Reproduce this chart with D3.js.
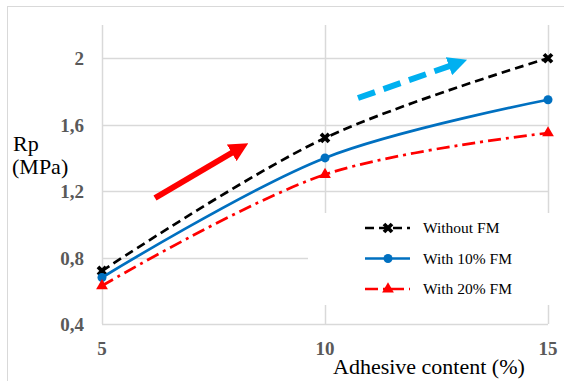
<!DOCTYPE html>
<html>
<head>
<meta charset="utf-8">
<script src="https://cdn.jsdelivr.net/npm/d3@7"></script>
<style>
  body { margin: 0; background: #fff; }
  svg { display: block; }
  svg text { font-family: 'Liberation Serif', 'Times New Roman', serif; }
</style>
</head>
<body>
<div id="chart"></div>
<script>
// Chart data.
const adhesive = [5, 10, 15];
const withoutFM = [0.72, 1.52, 2.0];
const with10FM = [0.68, 1.40, 1.75];
const with20FM = [0.63, 1.30, 1.55];
const yTicks = [0.4, 0.8, 1.2, 1.6, 2.0];
const seriesNames = ['Without FM', 'With 10% FM', 'With 20% FM'];

const width = 564, height = 381;
const svg = d3.select('#chart').append('svg')
    .attr('width', width)
    .attr('height', height);

// Outer frame.
svg.append('rect')
    .attr('x', 7.5).attr('y', 6.5)
    .attr('width', width + 10).attr('height', height + 10)
    .attr('fill', 'none').attr('stroke', '#d9d9d9');

const x = d3.scaleLinear().domain([5, 15]).range([102, 548]);
const y = d3.scaleLinear().domain([0.4, 2.2]).range([324, 25]);

// Grid lines.
svg.append('g').selectAll('line')
    .data(yTicks)
    .enter().append('line')
    .attr('x1', x(5)).attr('x2', x(15))
    .attr('y1', d => Math.round(y(d)) + 0.5).attr('y2', d => Math.round(y(d)) + 0.5)
    .attr('stroke', '#d9d9d9').attr('stroke-width', 1.5);
svg.append('g').selectAll('line')
    .data(adhesive)
    .enter().append('line')
    .attr('x1', d => Math.round(x(d)) + 0.5).attr('x2', d => Math.round(x(d)) + 0.5)
    .attr('y1', y(2.2)).attr('y2', y(0.4))
    .attr('stroke', '#d9d9d9').attr('stroke-width', 1.5);

// Tick labels.
svg.append('g').selectAll('text')
    .data(yTicks)
    .enter().append('text')
    .attr('x', 84).attr('y', d => y(d) + 7)
    .attr('text-anchor', 'end')
    .attr('font-size', 19)
    .attr('font-weight', 'bold').attr('fill', '#595959')
    .text(d => d3.format('.1f')(d).replace('.', ',').replace(',0', ''));
svg.append('g').selectAll('text')
    .data(adhesive)
    .enter().append('text')
    .attr('x', d => x(d)).attr('y', 355)
    .attr('text-anchor', 'middle')
    .attr('font-size', 19)
    .attr('font-weight', 'bold').attr('fill', '#595959')
    .text(d => d);

// Axis titles.
svg.append('text').attr('x', 13).attr('y', 151)
    .attr('font-size', 22)
    .text('Rp');
svg.append('text').attr('x', 12).attr('y', 174)
    .attr('font-size', 22)
    .text('(MPa)');
svg.append('text').attr('x', 333).attr('y', 374)
    .attr('font-size', 22)
    .text('Adhesive content (%)');

// Series.
const styles = [
    {values: withoutFM, color: '#000000', dash: '9,5', marker: 'x'},
    {values: with10FM, color: '#0070c0', dash: null, marker: 'circle'},
    {values: with20FM, color: '#ff0000', dash: '13,5,3,5', marker: 'triangle'}
];
const line = d3.line()
    .x(d => x(d[0])).y(d => y(d[1]))
    .curve(d3.curveCatmullRom.alpha(0.5));

function drawMarker(g, type, color) {
    if (type === 'x') {
        g.append('path').attr('d', 'M-4,-4L4,4M4,-4L-4,4')
            .attr('stroke', color).attr('stroke-width', 3.8).attr('fill', 'none');
    } else if (type === 'circle') {
        g.append('circle').attr('r', 4.5).attr('fill', color);
    } else {
        g.append('path').attr('d', d3.symbol(d3.symbolTriangle, 60)())
            .attr('fill', color);
    }
}

styles.forEach(function (s) {
    const pts = adhesive.map((a, i) => [a, s.values[i]]);
    svg.append('path')
        .attr('d', line(pts))
        .attr('fill', 'none')
        .attr('stroke', s.color)
        .attr('stroke-width', 2.7)
        .attr('stroke-dasharray', s.dash);
    pts.forEach(function (p) {
        const g = svg.append('g')
            .attr('transform', 'translate(' + x(p[0]) + ',' + y(p[1]) + ')');
        drawMarker(g, s.marker, s.color);
    });
});

// Trend arrows.
const defs = svg.append('defs');
function arrowHead(id, color) {
    defs.append('marker')
        .attr('id', id)
        .attr('viewBox', '0 0 10 10')
        .attr('refX', 5).attr('refY', 5)
        .attr('markerWidth', 3.2).attr('markerHeight', 3.2)
        .attr('markerUnits', 'strokeWidth')
        .attr('orient', 'auto')
        .append('path').attr('d', 'M0,0L10,5L0,10z').attr('fill', color);
}
arrowHead('redHead', '#ff0000');
arrowHead('blueHead', '#00b0f0');
svg.append('line')
    .attr('x1', 155).attr('y1', 198).attr('x2', 240).attr('y2', 148)
    .attr('stroke', '#ff0000').attr('stroke-width', 6)
    .attr('marker-end', 'url(#redHead)');
svg.append('line')
    .attr('x1', 358).attr('y1', 98).attr('x2', 458).attr('y2', 63)
    .attr('stroke', '#00b0f0').attr('stroke-width', 6)
    .attr('stroke-dasharray', '18,9')
    .attr('marker-end', 'url(#blueHead)');

// Legend (white box hides the grid behind it).
const legend = svg.append('g');
legend.append('rect')
    .attr('x', 308).attr('y', 213).attr('width', 252).attr('height', 92)
    .attr('fill', '#fff');
seriesNames.forEach(function (name, i) {
    const s = styles[i];
    const ly = 228 + i * 30.5;
    legend.append('line')
        .attr('x1', 365).attr('x2', 410).attr('y1', ly).attr('y2', ly)
        .attr('stroke', s.color).attr('stroke-width', 2.7)
        .attr('stroke-dasharray', s.dash);
    const g = legend.append('g').attr('transform', 'translate(388,' + ly + ')');
    drawMarker(g, s.marker, s.color);
    legend.append('text')
        .attr('x', 423).attr('y', ly + 5)
        .attr('font-size', 15.5)
        .text(name);
});
</script>
</body>
</html>
